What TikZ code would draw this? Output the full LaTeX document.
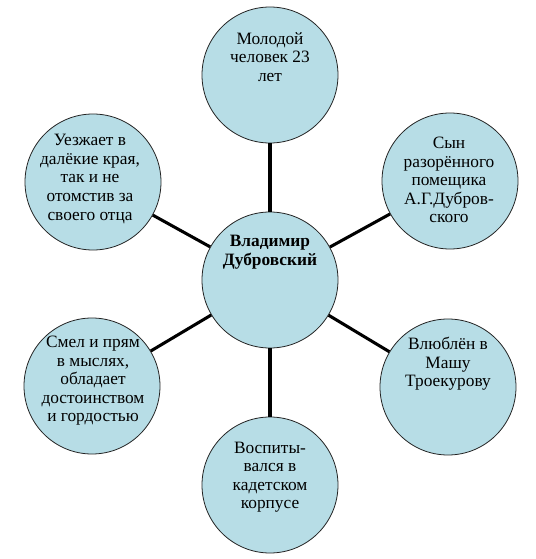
\documentclass[tikz,border=0pt]{standalone}
\usepackage{fontspec}
\setmainfont{Liberation Serif}
\usetikzlibrary{positioning}
\definecolor{dlight}{RGB}{183,221,230}
\definecolor{dline}{RGB}{35,35,35}
\tikzset{
  bubble/.style ={circle, draw=dline, line width=0.6pt, fill=dlight,
                  minimum size=102pt, inner sep=0pt},
  txt/.style    ={align=center, inner sep=0pt, font=\fontsize{13}{13.9}\selectfont},
  hubtxt/.style ={txt, font=\fontsize{13}{13.9}\selectfont\bfseries},
  link/.style   ={draw=black, line width=2.3pt}
}
\begin{document}
\begin{tikzpicture}[x=0.75pt,y=-0.75pt]
\useasboundingbox (0,0) rectangle (535,559);
\node[bubble] (hub)    at (270,280) {};
\node[bubble] (age)    at (270,75)  {};
\node[bubble] (son)    at (450,181) {};
\node[bubble] (love)   at (448,387) {};
\node[bubble] (school) at (270,485) {};
\node[bubble] (brave)  at (92,386)  {};
\node[bubble] (leave)  at (93,182)  {};
\foreach \n in {age,son,love,school,brave,leave}{\draw[link] (hub) -- (\n);}

\node[hubtxt] (thub)    at (270,252) {Владимир\\Дубровский};
\node[txt]    (tage)    at (270,57)  {Молодой\\человек 23\\лет};
\node[txt]    (tson)    at (449,180) {Сын\\разорённого\\помещика\\А.Г.Дубров-\\ского};
\node[txt]    (tlove)   at (448,364) {Влюблён в\\Машу\\Троекурову};
\node[txt]    (tschool) at (270,477) {Воспиты-\\вался в\\кадетском\\корпусе};
\node[txt]    (tbrave)  at (93,381)  {Смел и прям\\в мыслях,\\обладает\\достоинством\\и гордостью};
\node[txt]    (tleave)  at (90,179)  {Уезжает в\\далёкие края,\\так и не\\отомстив за\\своего отца};
\end{tikzpicture}
\end{document}
